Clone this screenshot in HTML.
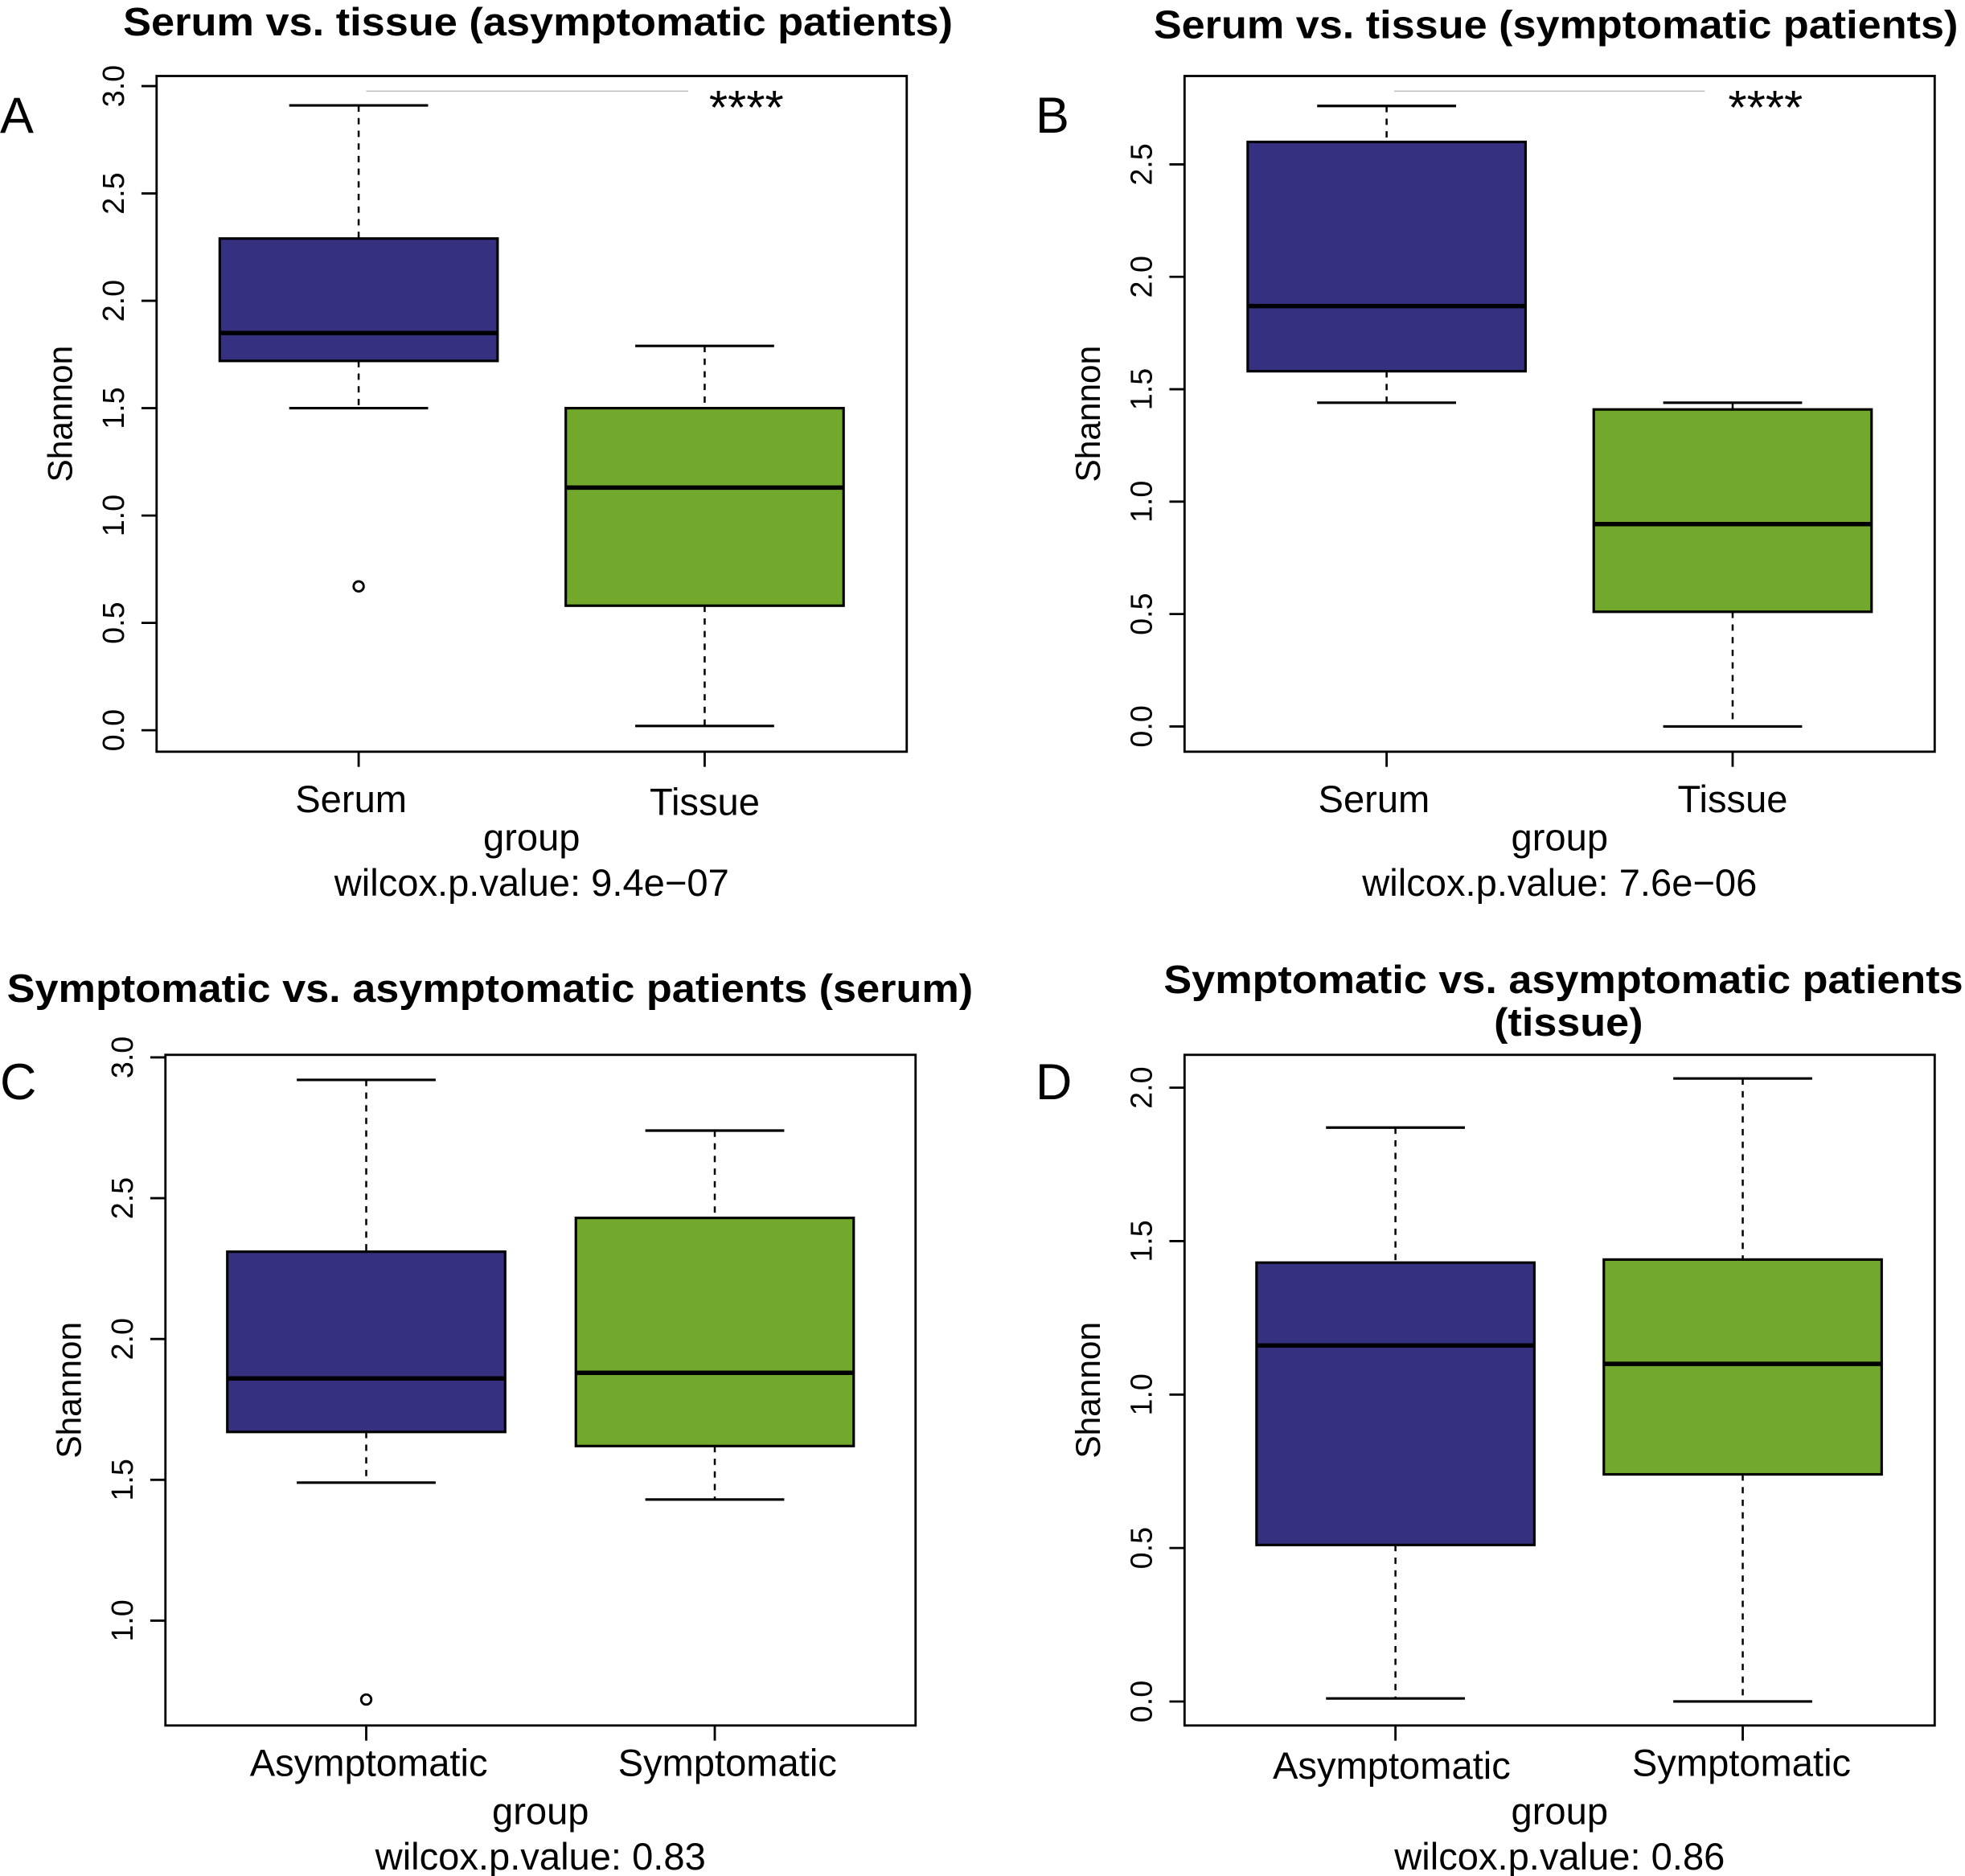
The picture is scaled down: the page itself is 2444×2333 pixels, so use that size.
<!DOCTYPE html>
<html><head><meta charset="utf-8"><style>
html,body{margin:0;padding:0;background:#fff}
svg{display:block}
text{font-family:"Liberation Sans",Arial,sans-serif;fill:#000}
</style></head><body>
<svg id="chart" xmlns="http://www.w3.org/2000/svg" width="2444" height="2333" viewBox="0 0 1556 1485">
</svg>
<script>
// Panel A data
const aCats = ["Serum","Tissue"];
const aLow = [1.50, 0.02];
const aQ1 = [1.72, 0.58];
const aMed = [1.85, 1.13];
const aQ3 = [2.29, 1.50];
const aHigh = [2.91, 1.79];
const aOut = [[0.67], []];
const aTicks = ["0.0","0.5","1.0","1.5","2.0","2.5","3.0"];
// Panel B data
const bCats = ["Serum","Tissue"];
const bLow = [1.44, 0.0];
const bQ1 = [1.58, 0.51];
const bMed = [1.87, 0.90];
const bQ3 = [2.60, 1.41];
const bHigh = [2.76, 1.44];
const bOut = [[], []];
const bTicks = ["0.0","0.5","1.0","1.5","2.0","2.5"];
// Panel C data
const cCats = ["Asymptomatic","Symptomatic"];
const cLow = [1.49, 1.43];
const cQ1 = [1.67, 1.62];
const cMed = [1.86, 1.88];
const cQ3 = [2.31, 2.43];
const cHigh = [2.92, 2.74];
const cOut = [[0.72], []];
const cTicks = ["1.0","1.5","2.0","2.5","3.0"];
// Panel D data
const dCats = ["Asymptomatic","Symptomatic"];
const dLow = [0.01, 0.0];
const dQ1 = [0.51, 0.74];
const dMed = [1.16, 1.10];
const dQ3 = [1.43, 1.44];
const dHigh = [1.87, 2.03];
const dOut = [[], []];
const dTicks = ["0.0","0.5","1.0","1.5","2.0"];

const NS = "http://www.w3.org/2000/svg";
const svg = document.getElementById("chart");
const COLORS = ["#35307f","#72a82c"];
function mk(tag, attrs, parent, txt){
  const e = document.createElementNS(NS, tag);
  for (const k in attrs) e.setAttribute(k, attrs[k]);
  if (txt !== undefined) e.textContent = txt;
  (parent||svg).appendChild(e);
  return e;
}
function panel(cfg){
  const g = mk("g", {});
  
  
  const y = v => cfg.y0px + (v - cfg.y0v) * (cfg.y1px - cfg.y0px) / (cfg.y1v - cfg.y0v);
  const x = i => cfg.xs[i];
  cfg.title.forEach((t, k) => {
    const e = mk("text", {x: cfg.titleX[k], y: cfg.titleY + k*34, "text-anchor":"middle", "font-size":31, "font-weight":"bold", textLength: cfg.titleW[k], lengthAdjust:"spacingAndGlyphs"}, g, t);
    
    
  });
  const L = mk("text", {x: cfg.letterX, y: cfg.letterY, "font-size":40}, g, cfg.letter);
  
  
  const fr = mk("rect", {x: cfg.left, y: cfg.top, width: cfg.right-cfg.left, height: cfg.bottom-cfg.top, fill:"none", stroke:"#000", "stroke-width":1.8}, g);
  
  
  cfg.ticks.forEach(t => {
    const v = parseFloat(t), py = y(v);
    const tk = mk("line", {x1: cfg.left-12, x2: cfg.left, y1: py, y2: py, stroke:"#000", "stroke-width":1.8}, g);
    
    
    const tl = mk("text", {x: 0, y: 0, "text-anchor":"middle", "font-size":24, transform:`translate(${cfg.left-26},${py}) rotate(-90)`}, g, t);
    
    
  });
  const yt = mk("text", {x:0, y:0, "text-anchor":"middle", "font-size":27, transform:`translate(${cfg.left-67},${(cfg.top+cfg.bottom)/2}) rotate(-90)`}, g, "Shannon");
  
  
  cfg.cats.forEach((c, i) => {
    const cx = x(i), hw = 110, cw = 55;
    const bg = mk("g", {}, g);
    
    
    mk("line", {x1:cx, x2:cx, y1:y(cfg.high[i]), y2:y(cfg.q3[i]), stroke:"#000", "stroke-width":1.6, "stroke-dasharray":"5,5"}, bg);
    mk("line", {x1:cx, x2:cx, y1:y(cfg.q1[i]), y2:y(cfg.low[i]), stroke:"#000", "stroke-width":1.6, "stroke-dasharray":"5,5"}, bg);
    mk("line", {x1:cx-cw, x2:cx+cw, y1:y(cfg.high[i]), y2:y(cfg.high[i]), stroke:"#000", "stroke-width":2}, bg);
    mk("line", {x1:cx-cw, x2:cx+cw, y1:y(cfg.low[i]), y2:y(cfg.low[i]), stroke:"#000", "stroke-width":2}, bg);
    mk("rect", {x:cx-hw, y:y(cfg.q3[i]), width:2*hw, height:y(cfg.q1[i])-y(cfg.q3[i]), fill:COLORS[i], stroke:"#000", "stroke-width":2}, bg);
    mk("line", {x1:cx-hw, x2:cx+hw, y1:y(cfg.med[i]), y2:y(cfg.med[i]), stroke:"#000", "stroke-width":3.5}, bg);
    cfg.out[i].forEach(o => {
      const oc = mk("circle", {cx:cx, cy:y(o), r:4, fill:"none", stroke:"#000", "stroke-width":1.8}, bg);
      
      
    });
    const xt = mk("line", {x1:cx, x2:cx, y1:cfg.bottom, y2:cfg.bottom+12, stroke:"#000", "stroke-width":1.8}, g);
    
    
    const xl = mk("text", {x: cx + cfg.labelDx[i], y: cfg.bottom + cfg.labelDy[i], "text-anchor":"middle", "font-size":30}, g, c);
    
    
  });
  const gx = (cfg.left+cfg.right)/2;
  const gt = mk("text", {x: gx, y: cfg.bottom+78, "text-anchor":"middle", "font-size":30}, g, "group");
  
  
  const wt = mk("text", {x: gx, y: cfg.bottom+114, "text-anchor":"middle", "font-size":30}, g, cfg.pval);
  
  
  if (cfg.sig) {
    const sl = mk("line", {x1: cfg.sig[0], x2: cfg.sig[1], y1: cfg.top+12, y2: cfg.top+12, stroke:"#bbb", "stroke-width":1}, g);
    
    
    const st = mk("text", {x: cfg.sig[2], y: cfg.top+38, "text-anchor":"middle", "font-size":38}, g, "****");
    
    
  }
}
panel({name:"panel-a", letter:"A", letterX:0, letterY:105, title:["Serum vs. tissue (asymptomatic patients)"], titleX:[426], titleW:[657], titleY:28,
  left:124, right:718, top:60, bottom:595, y0v:0, y0px:578, y1v:3, y1px:68, xs:[284,558],
  cats:aCats, low:aLow, q1:aQ1, med:aMed, q3:aQ3, high:aHigh, out:aOut, ticks:aTicks,
  labelDx:[-6,0], labelDy:[48,50], pval:"wilcox.p.value: 9.4e\u221207", sig:[290,545,591]});
panel({name:"panel-b", letter:"B", letterX:820, letterY:105, title:["Serum vs. tissue (symptomatic patients)"], titleX:[1232], titleW:[637], titleY:30,
  left:938, right:1532, top:60, bottom:595, y0v:0, y0px:575, y1v:2.5, y1px:130, xs:[1098,1372],
  cats:bCats, low:bLow, q1:bQ1, med:bMed, q3:bQ3, high:bHigh, out:bOut, ticks:bTicks,
  labelDx:[-10,0], labelDy:[48,48], pval:"wilcox.p.value: 7.6e\u221206", sig:[1104,1350,1398]});
panel({name:"panel-c", letter:"C", letterX:0, letterY:870, title:["Symptomatic vs. asymptomatic patients (serum)"], titleX:[388], titleW:[765], titleY:793,
  left:131, right:725, top:835, bottom:1366, y0v:1, y0px:1283, y1v:3, y1px:837, xs:[290,566],
  cats:cCats, low:cLow, q1:cQ1, med:cMed, q3:cQ3, high:cHigh, out:cOut, ticks:cTicks,
  labelDx:[2,10], labelDy:[40,40], pval:"wilcox.p.value: 0.83"});
panel({name:"panel-d", letter:"D", letterX:820, letterY:870, title:["Symptomatic vs. asymptomatic patients","(tissue)"], titleX:[1238,1242], titleW:[633,118], titleY:786,
  left:938, right:1532, top:835, bottom:1366, y0v:0, y0px:1347, y1v:2, y1px:861, xs:[1105,1380],
  cats:dCats, low:dLow, q1:dQ1, med:dMed, q3:dQ3, high:dHigh, out:dOut, ticks:dTicks,
  labelDx:[-3,-1], labelDy:[42,40], pval:"wilcox.p.value: 0.86"});
</script>
</body></html>
